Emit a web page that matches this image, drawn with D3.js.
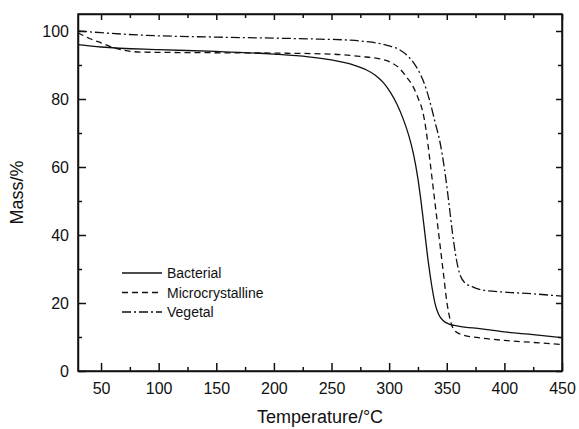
<html>
  <head>
    <style>
      body { margin: 0; background: #fff; }
      text { font-family: "Liberation Sans", Arial, sans-serif; fill: #111; }
      .line { fill: none; stroke: #111; stroke-width: 1.3; }
      .axis path, .axis line { stroke: #111; stroke-width: 1.5; }
    </style>
    <script src="https://d3js.org/d3.v7.min.js"></script>
  </head>
  <body></body>
</html>

<script>
  // data: [temperature, mass%]
  var bacterial = [[30,96],[50,95.3],[100,94.5],[150,94],[200,93.2],[230,92.4],[250,91.5],[270,89.9],
    [280,88.6],[288,87],[295,84.8],[301,82],[307,78.3],[312,74.3],[317,69.3],[321,64],[325,56.5],[328,49],
    [331,40.5],[334,32],[337,25],[340,19.6],[343,16.6],[347,14.8],[352,13.8],[360,13.2],[380,12.4],
    [400,11.5],[425,10.7],[450,9.8]];
  var microcrystalline = [[30,99.5],[40,97.8],[50,96.5],[60,95.2],[70,94.3],[85,93.8],[150,93.6],[200,93.5],
    [250,93.2],[275,92.5],[292,91.8],[300,91],[309,89],[315,86.5],[321,83.5],[326,79.5],[329,76.5],[332,71],
    [335,63],[338,54.5],[341,46],[344,37.5],[347,29],[350,20.5],[353,15],[357,11.8],[365,10.5],[380,9.7],
    [400,9.0],[425,8.4],[450,7.8]];
  var vegetal = [[30,100],[50,99.5],[84,98.8],[150,98.2],[200,97.9],[240,97.6],[266,97.3],[280,96.9],
    [292,96.3],[300,95.6],[309,94.5],[315,93],[321,90.8],[326,88],[330,85],[335,79.7],[340,73],[344,67.5],
    [348,59.5],[352,49],[355,40.5],[358,33.5],[361,28.8],[365,26.2],[372,24.8],[381,23.8],[400,23.2],
    [425,22.7],[450,22]];

  var xTicks = [50, 100, 150, 200, 250, 300, 350, 400, 450];
  var yTicks = [0, 20, 40, 60, 80, 100];
  var seriesNames = ["Bacterial", "Microcrystalline", "Vegetal"];
  var dashes = ["none", "6,4", "9,3,2,3"];

  var svgWidth = 579, svgHeight = 429;
  var margin = { left: 78, top: 14, right: 17, bottom: 58 };
  var width = svgWidth - margin.left - margin.right,
    height = svgHeight - margin.top - margin.bottom;

  var svg = d3.select("body").append("svg")
    .attr("width", svgWidth)
    .attr("height", svgHeight)
    .append("g")
    .attr("transform", "translate(" + margin.left + "," + margin.top + ")");

  var x = d3.scaleLinear().domain([30, 450]).range([0, width]);
  var y = d3.scaleLinear().domain([0, 105]).range([height, 0]);

  var xMinor = d3.range(75, 450, 50);
  var yMinor = d3.range(10, 105, 20);

  function fmt() { return ""; }

  // minor ticks (all four sides)
  svg.append("g").attr("class", "axis").attr("transform", "translate(0," + height + ")")
    .call(d3.axisBottom(x).tickValues(xMinor).tickSize(-4).tickFormat(fmt)).select(".domain").remove();
  svg.append("g").attr("class", "axis")
    .call(d3.axisTop(x).tickValues(xMinor).tickSize(-4).tickFormat(fmt)).select(".domain").remove();
  svg.append("g").attr("class", "axis")
    .call(d3.axisLeft(y).tickValues(yMinor).tickSize(-4).tickFormat(fmt)).select(".domain").remove();
  svg.append("g").attr("class", "axis").attr("transform", "translate(" + width + ",0)")
    .call(d3.axisRight(y).tickValues(yMinor).tickSize(-4).tickFormat(fmt)).select(".domain").remove();

  // major axes
  var xAxis = svg.append("g").attr("class", "axis").attr("transform", "translate(0," + height + ")")
    .call(d3.axisBottom(x).tickValues(xTicks).tickSizeInner(-8).tickSizeOuter(0).tickPadding(12));
  xAxis.selectAll("text").style("font-size", "16px");
  svg.append("g").attr("class", "axis")
    .call(d3.axisTop(x).tickValues(xTicks).tickSizeInner(-6).tickSizeOuter(0).tickFormat(fmt));
  var yAxis = svg.append("g").attr("class", "axis")
    .call(d3.axisLeft(y).tickValues(yTicks).tickSizeInner(-8).tickSizeOuter(0).tickPadding(9));
  yAxis.selectAll("text").style("font-size", "16px");
  svg.append("g").attr("class", "axis").attr("transform", "translate(" + width + ",0)")
    .call(d3.axisRight(y).tickValues(yTicks).tickSizeInner(-6).tickSizeOuter(0).tickFormat(fmt));

  svg.append("rect").attr("width", width).attr("height", height)
    .attr("fill", "none").attr("stroke", "#111").attr("stroke-width", 1.5);

  var line = d3.line().x(d => x(d[0])).y(d => y(d[1])).curve(d3.curveMonotoneX);

  [bacterial, microcrystalline, vegetal].forEach(function(s, i) {
    svg.append("path").attr("class", "line").attr("d", line(s))
      .attr("stroke-dasharray", dashes[i]);
  });

  // legend
  var legend = svg.append("g").attr("transform", "translate(44,259)");
  seriesNames.forEach(function(name, i) {
    legend.append("line").attr("class", "line")
      .attr("x1", 0).attr("x2", 40).attr("y1", i * 19.5).attr("y2", i * 19.5)
      .attr("stroke-dasharray", dashes[i]);
    legend.append("text").attr("x", 45).attr("y", i * 19.5 + 5)
      .style("font-size", "14px").text(name);
  });

  svg.append("text").attr("x", width / 2).attr("y", height + 52)
    .attr("text-anchor", "middle").style("font-size", "18px").text("Temperature/°C");
  svg.append("text").attr("transform", "translate(-55," + (height / 2) + ") rotate(-90)")
    .attr("text-anchor", "middle").style("font-size", "18px").text("Mass/%");
</script>
